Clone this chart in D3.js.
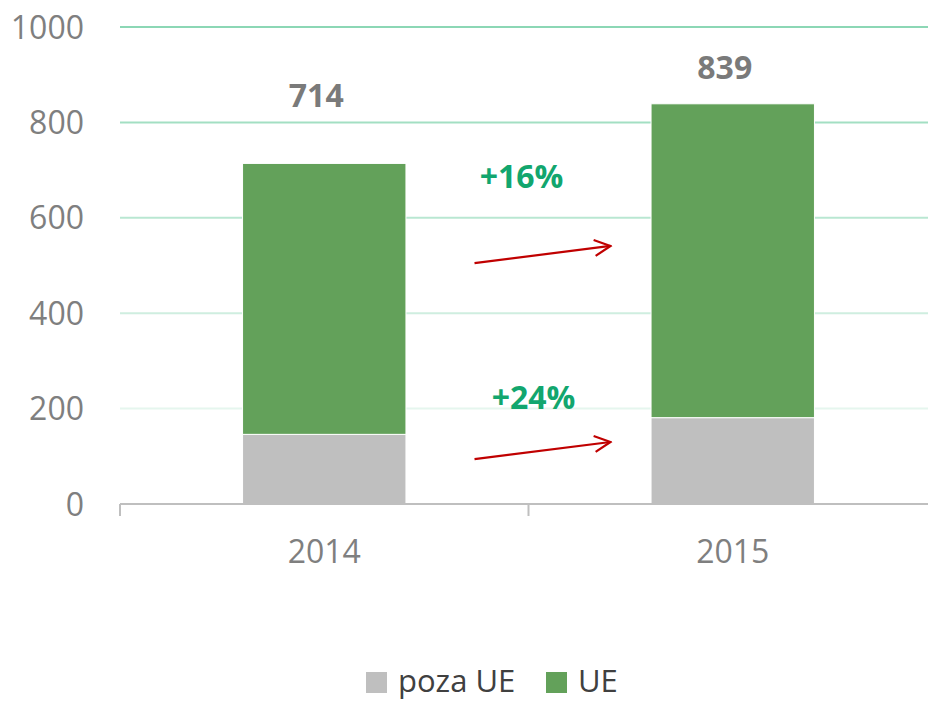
<!DOCTYPE html>
<html>
<head>
<meta charset="utf-8">
<script src="https://cdn.jsdelivr.net/npm/d3@7"></script>
<style>
  body { margin: 0; background: #fff; }
  svg text { font-family: "Open Sans", sans-serif; }
</style>
</head>
<body>
<svg id="chart"></svg>
<script>
// data
const years = ["2014", "2015"];
const seriesNames = ["poza UE", "UE"];
const pozaUE = [146, 181];
const ue = [568, 658];
const totals = [714, 839];
const growthLabels = ["+16%", "+24%"];
const yTicks = [0, 200, 400, 600, 800, 1000];

const width = 928, height = 701;
const colors = {"poza UE": "#bfbfbf", "UE": "#63a15a"};

const svg = d3.select("#chart")
    .attr("width", width)
    .attr("height", height);

const x = d3.scaleBand()
    .domain(years)
    .range([120, 937])
    .paddingInner(0.6)
    .paddingOuter(0.3);

const y = d3.scaleLinear()
    .domain([0, 1000])
    .range([504, 27]);

// gridlines, fading downwards
const gridOpacity = d3.scaleLinear().domain([200, 1000]).range([0.1, 0.45]);
svg.append("g")
  .selectAll("line")
  .data(yTicks.filter(d => d > 0))
  .join("line")
    .attr("x1", 120)
    .attr("x2", width)
    .attr("y1", d => y(d))
    .attr("y2", d => y(d))
    .attr("stroke", "#00a65a")
    .attr("stroke-opacity", d => gridOpacity(d))
    .attr("stroke-width", 2);

// y labels
svg.append("g")
  .selectAll("text")
  .data(yTicks)
  .join("text")
    .attr("x", 84)
    .attr("y", d => y(d))
    .attr("dy", "0.36em")
    .attr("text-anchor", "end")
    .attr("fill", "#7f7f7f")
    .attr("font-size", 32)
    .text(d => d);

// stacked bars
const rows = years.map((yr, i) => ({year: yr, "poza UE": pozaUE[i], "UE": ue[i]}));
const stack = d3.stack().keys(seriesNames)(rows);

svg.append("g")
  .selectAll("g")
  .data(stack)
  .join("g")
    .attr("fill", d => colors[d.key])
  .selectAll("rect")
  .data(d => d)
  .join("rect")
    .attr("x", d => x(d.data.year))
    .attr("width", x.bandwidth())
    .attr("y", d => y(d[1]))
    .attr("height", d => y(d[0]) - y(d[1]))
    .attr("stroke", "#fff")
    .attr("stroke-width", 1);

// x axis line and ticks
const axisG = svg.append("g");
axisG.append("line")
    .attr("x1", 120).attr("x2", width)
    .attr("y1", y(0)).attr("y2", y(0))
    .attr("stroke", "#bfbfbf").attr("stroke-width", 2);
const tickXs = [x.range()[0], (x(years[0]) + x.bandwidth() + x(years[1])) / 2];
axisG.selectAll(".tick")
  .data(tickXs)
  .join("line")
    .attr("x1", d => d).attr("x2", d => d)
    .attr("y1", y(0)).attr("y2", y(0) + 12)
    .attr("stroke", "#bfbfbf").attr("stroke-width", 2);

axisG.selectAll("text")
  .data(years)
  .join("text")
    .attr("x", d => x(d) + x.bandwidth() / 2)
    .attr("y", 563)
    .attr("text-anchor", "middle")
    .attr("fill", "#7f7f7f")
    .attr("font-size", 32)
    .text(d => d);

// total labels (placed by hand in the original)
const totalLift = [56, 25];
svg.append("g")
  .selectAll("text")
  .data(totals)
  .join("text")
    .attr("x", (d, i) => x(years[i]) + x.bandwidth() / 2 - 8)
    .attr("y", (d, i) => y(d) - totalLift[i])
    .attr("text-anchor", "middle")
    .attr("fill", "#7a7a7a")
    .attr("font-size", 32)
    .attr("font-weight", "bold")
    .text(d => d);

// growth annotations: label + arrow
const midX = (x(years[0]) + x.bandwidth() + x(years[1])) / 2;
const annot = [
  {label: growthLabels[0], labelX: midX - 7, labelV: 662, from: 505, to: 541},
  {label: growthLabels[1], labelX: midX + 5, labelV: 200, from: 94, to: 130}
];

svg.append("defs").append("marker")
    .attr("id", "arrow")
    .attr("viewBox", "0 0 20 20")
    .attr("refX", 18).attr("refY", 10)
    .attr("markerWidth", 20).attr("markerHeight", 20)
    .attr("markerUnits", "userSpaceOnUse")
    .attr("orient", "auto")
  .append("path")
    .attr("d", "M2,2 L18,10 L2,18")
    .attr("fill", "none")
    .attr("stroke", "#c00000")
    .attr("stroke-width", 2.2);

const ag = svg.append("g");
ag.selectAll("text")
  .data(annot)
  .join("text")
    .attr("x", d => d.labelX)
    .attr("y", d => y(d.labelV))
    .attr("text-anchor", "middle")
    .attr("fill", "#12a66e")
    .attr("font-size", 32)
    .attr("font-weight", "bold")
    .text(d => d.label);

ag.selectAll("line")
  .data(annot)
  .join("line")
    .attr("x1", midX - 54)
    .attr("x2", midX + 82)
    .attr("y1", d => y(d.from))
    .attr("y2", d => y(d.to))
    .attr("stroke", "#c00000")
    .attr("stroke-width", 2.2)
    .attr("marker-end", "url(#arrow)");

// legend
const legend = svg.append("g").attr("transform", "translate(366,672)");
const legX = [0, 180];
const lg = legend.selectAll("g")
  .data(seriesNames)
  .join("g")
    .attr("transform", (d, i) => `translate(${legX[i]},0)`);
lg.append("rect")
    .attr("width", 21).attr("height", 21)
    .attr("fill", d => colors[d]);
lg.append("text")
    .attr("x", 32)
    .attr("y", 20)
    .attr("fill", "#404040")
    .attr("font-size", 31)
    .text(d => d);
</script>
</body>
</html>
